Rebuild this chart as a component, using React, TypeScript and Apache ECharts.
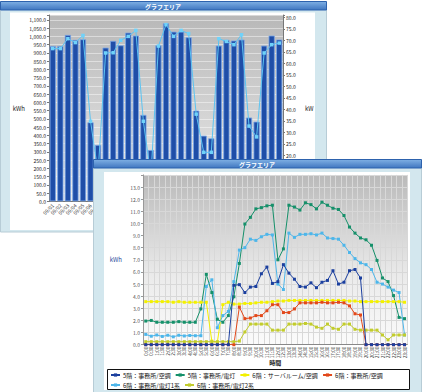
import { useEffect, useRef } from 'react';
import * as echarts from 'echarts';

const FONT = '"Noto Sans CJK JP", "Noto Sans", sans-serif';

// ---- Chart 1 (daily energy, back panel) ----
const dayLabels = [
  '09/01', '09/02', '09/03', '09/04', '09/05', '09/06', '09/07', '09/08', '09/09', '09/10',
  '09/11', '09/12', '09/13', '09/14', '09/15', '09/16', '09/17', '09/18', '09/19', '09/20',
  '09/21', '09/22', '09/23', '09/24', '09/25', '09/26', '09/27', '09/28', '09/29', '09/30', '10/01',
];
const dailyKWh = [
  942, 942, 1009, 979, 983, 479, 342, 932, 973, 946,
  1023, 1005, 524, 311, 946, 1080, 1029, 1029, 995, 550,
  398, 382, 944, 979, 975, 981, 508, 483, 944, 1005, 981,
];
const peakKW = [
  66.4, 66.4, 70.7, 69.0, 72.1, 34.8, 12.5, 64.5, 64.6, 70.0,
  71.7, 74.3, 34.8, 11.0, 67.5, 76.8, 71.7, 74.3, 72.9, 37.9,
  21.3, 21.3, 70.7, 69.5, 68.1, 72.4, 32.7, 28.0, 64.5, 68.1, 68.8,
];

// ---- Chart 2 (half-hourly energy, front panel) ----
const timeLabels = [
  '0:00', '0:30', '1:00', '1:30', '2:00', '2:30', '3:00', '3:30', '4:00', '4:30',
  '5:00', '5:30', '6:00', '6:30', '7:00', '7:30', '8:00', '8:30', '9:00', '9:30',
  '10:00', '10:30', '11:00', '11:30', '12:00', '12:30', '13:00', '13:30', '14:00', '14:30',
  '15:00', '15:30', '16:00', '16:30', '17:00', '17:30', '18:00', '18:30', '19:00', '19:30',
  '20:00', '20:30', '21:00', '21:30', '22:00', '22:30', '23:00', '23:30',
];
const seriesNames = [
  '5階：事務所/空調',
  '5階：事務所/電灯',
  '6階：サーバルーム/空調',
  '6階：事務所/空調',
  '6階：事務所/電灯1系',
  '6階：事務所/電灯2系',
];
const seriesColors = ['#1b3f9e', '#15906a', '#f2f000', '#e2481a', '#4db6ea', '#c2cc2c'];
const f5Aircon = [
  0, 0, 0, 0, 0, 0, 0, 0, 0, 0,
  0, 0, 0, 0, 0, 0, 4.9, 4.95, 4.3, 4.75,
  4.8, 5.85, 6.4, 5.05, 5.2, 6.6, 5.9, 5.4, 4.8, 4.75,
  5.1, 4.7, 5.15, 5.3, 6.1, 5.0, 5.15, 6.1, 6.2, 5.5,
  0, 0, 0, 0, 0, 0, 0, 0,
];
const f5Light = [
  1.95, 2.0, 1.85, 1.85, 1.85, 1.85, 1.9, 1.85, 1.85, 1.85,
  2.95, 5.8, 4.3, 2.1, 1.85, 2.4, 3.95, 6.7, 9.95, 10.5,
  11.2, 11.3, 11.45, 11.5, 7.0, 7.9, 11.5, 11.35, 11.1, 11.7,
  11.55, 11.2, 11.75, 11.5, 11.25, 11.15, 10.65, 9.7, 9.2, 8.8,
  8.65, 8.2, 6.95, 5.5, 5.2, 4.05, 2.25, 2.15,
];
const f6Server = [
  3.55, 3.55, 3.55, 3.55, 3.55, 3.5, 3.55, 3.5, 3.5, 3.5,
  3.5, 3.5, 0.3, 0.2, 3.3, 3.5, 3.35, 3.35, 3.4, 3.4,
  3.45, 3.5, 3.5, 3.55, 3.6, 3.6, 3.65, 3.65, 3.65, 3.65,
  3.65, 3.65, 3.65, 3.65, 3.65, 3.65, 3.65, 3.6, 3.6, 3.55,
  3.55, 3.55, 3.55, 3.55, 3.55, 3.55, 3.55, 3.5,
];
const f6Aircon = [
  0, 0, 0, 0, 0, 0, 0, 0, 0, 0,
  0, 0, 0, 0, 0, 0, 0, 3.1, 2.15, 2.2,
  2.4, 2.4, 2.8, 3.3, 3.3, 2.65, 2.65, 2.95, 3.45, 3.45,
  3.45, 3.45, 3.5, 3.45, 3.45, 3.5, 3.45, 3.2, 2.55, 2.45,
  0, 0, 0, 0, 0, 0, 0, 0,
];
const f6Light1 = [
  0.85, 0.7, 0.8, 0.68, 0.78, 0.65, 0.78, 0.72, 0.76, 0.74,
  0.74, 4.8, 5.35, 1.4, 2.4, 2.75, 5.2, 7.8, 8.0, 8.7,
  8.6, 8.9, 9.1, 9.05, 5.0, 4.55, 9.2, 8.85, 9.1, 9.1,
  9.15, 9.05, 9.2, 8.8, 8.75, 8.7, 8.2, 7.6, 7.1, 6.75,
  6.6, 6.2, 5.15, 5.0, 4.75, 4.5, 4.3, 0.8,
];
const f6Light2 = [
  0.25, 0.25, 0.25, 0.25, 0.25, 0.25, 0.25, 0.25, 0.25, 0.25,
  0.25, 0.25, 0.25, 0.25, 0.25, 0.25, 0.25, 0.3, 1.05, 1.7,
  1.7, 1.7, 1.7, 1.2, 1.2, 1.2, 1.7, 1.7, 1.7, 1.75,
  1.7, 1.45, 1.35, 1.7, 1.35, 1.27, 1.7, 1.7, 1.27, 1.2,
  1.2, 1.2, 1.2, 0.8, 0.4, 0.8, 0.8, 0.8,
];
const halfHourSeries = [f5Aircon, f5Light, f6Server, f6Aircon, f6Light1, f6Light2];

const withCommas = (v: number) => {
  const [i, d] = v.toFixed(1).split('.');
  return i.replace(/\B(?=(\d{3})+(?!\d))/g, ',') + '.' + d;
};

const titleGradient = {
  type: 'linear', x: 0, y: 0, x2: 0, y2: 1,
  colorStops: [{ offset: 0, color: '#7fb0e4' }, { offset: 1, color: '#3f76c0' }],
};

const panelGraphics = (w: number, h: number, inner: number[]) => [
  { type: 'rect', z: -20, silent: true, shape: { x: 0.5, y: 9, width: w, height: h }, style: { fill: '#d3e7ee', stroke: '#b7ccd6', lineWidth: 1 } },
  { type: 'rect', z: -19, silent: true, shape: { x: inner[0], y: inner[1], width: inner[2], height: inner[3] }, style: { fill: '#ffffff' } },
  { type: 'rect', z: -18, silent: true, shape: { x: 0.5, y: 1.5, width: w, height: 8.5 }, style: { fill: titleGradient, stroke: '#2d62ad', lineWidth: 1 } },
  {
    type: 'text', z: -17, silent: true, x: w / 2, y: 6,
    style: {
      text: 'グラフエリア', fill: '#ffffff', font: `bold 6px ${FONT}`,
      textAlign: 'center', textVerticalAlign: 'middle', align: 'center', verticalAlign: 'middle',
    },
  },
];

const option1: any = {
  animation: false,
  textStyle: { fontFamily: FONT },
  graphic: panelGraphics(326, 223, [10, 12.5, 305, 217.5]),
  grid: {
    left: 49, top: 15, width: 234, height: 186.3, show: true, borderWidth: 0,
    backgroundColor: {
      type: 'linear', x: 0, y: 0, x2: 0, y2: 1,
      colorStops: [{ offset: 0, color: '#b8b8b8' }, { offset: 1, color: '#ececec' }],
    },
  },
  xAxis: {
    type: 'category', data: dayLabels,
    axisLabel: { rotate: 45, fontSize: 5, interval: 0, margin: 3, color: '#333' },
    axisTick: { show: false },
    axisLine: { lineStyle: { color: '#777' } },
  },
  yAxis: [
    {
      type: 'value', min: 0, max: 1130, interval: 50,
      name: 'kWh', nameLocation: 'middle', nameRotate: 0, nameGap: 24, nameMoveOverlap: false,
      nameTextStyle: { fontSize: 6, color: '#222' },
      axisLabel: { fontSize: 5, color: '#222', margin: 3, formatter: (v: number) => (Math.abs(v % 50) > 1e-6 ? '' : withCommas(v)) },
      axisLine: { show: true, lineStyle: { color: '#777' } },
      axisTick: { show: true, length: 2, lineStyle: { color: '#777' } },
      splitLine: { lineStyle: { color: 'rgba(255,255,255,0.45)', width: 1 } },
    },
    {
      type: 'value', min: 0, max: 81, interval: 5, position: 'right',
      name: 'kW', nameLocation: 'middle', nameRotate: 0, nameGap: 22, nameMoveOverlap: false,
      nameTextStyle: { fontSize: 6, color: '#222' },
      axisLabel: { fontSize: 5, color: '#222', margin: 3, formatter: (v: number) => (Math.abs(v % 5) > 1e-6 ? '' : v.toFixed(1)) },
      axisLine: { show: true, lineStyle: { color: '#777' } },
      axisTick: { show: true, length: 2, lineStyle: { color: '#777' } },
      splitLine: { show: false },
    },
  ],
  series: [
    {
      type: 'bar', data: dailyKWh, barWidth: '82%',
      itemStyle: { color: '#1f4ea8', borderColor: '#7aa6e6', borderWidth: 0.8 },
    },
    {
      type: 'line', data: peakKW, yAxisIndex: 1,
      symbol: 'rect', symbolSize: 3.5,
      lineStyle: { color: '#5cc4f2', width: 1 },
      itemStyle: { color: '#6fd2fa' },
    },
  ],
};

const option2: any = {
  animation: false,
  textStyle: { fontFamily: FONT },
  graphic: [
    ...panelGraphics(328, 226, [11, 14, 306, 218]),
    { type: 'rect', z: -16, silent: true, shape: { x: 14.5, y: 211.5, width: 302, height: 20 }, style: { fill: '#ffffff', stroke: '#111', lineWidth: 1 } },
  ],
  grid: {
    left: 50, top: 16.9, width: 264.3, height: 169.8, show: true, borderWidth: 0,
    backgroundColor: {
      type: 'linear', x: 0, y: 0, x2: 0, y2: 1,
      colorStops: [
        { offset: 0, color: '#bababa' },
        { offset: 0.6, color: '#ebebeb' },
        { offset: 1, color: '#fbfbfb' },
      ],
    },
  },
  legend: {
    left: 17, top: 214, width: 292, padding: 0,
    itemWidth: 9, itemHeight: 4, itemGap: 4,
    textStyle: { fontSize: 6, color: '#111', lineHeight: 6, padding: [0, 0, 0, -2] },
    data: seriesNames,
  },
  xAxis: {
    type: 'category', data: timeLabels,
    name: '時間', nameLocation: 'middle', nameGap: 15, nameMoveOverlap: false,
    nameTextStyle: { fontSize: 6, color: '#222', fontWeight: 'bold' },
    axisLabel: { rotate: 90, fontSize: 4.6, interval: 0, margin: 2, color: '#333' },
    axisTick: { show: false },
    axisLine: { lineStyle: { color: '#888' } },
    splitLine: { show: true, interval: 0, lineStyle: { color: '#d8d8d8', width: 1 } },
  },
  yAxis: {
    type: 'value', min: 0, max: 14, interval: 1,
    name: 'kWh', nameLocation: 'middle', nameRotate: 0, nameGap: 21, nameMoveOverlap: false,
    nameTextStyle: { fontSize: 6, color: '#2c4b9c' },
    axisLabel: { fontSize: 5, color: '#555', margin: 3, formatter: (v: number) => (v >= 14 ? '' : v.toFixed(1)) },
    axisLine: { show: true, lineStyle: { color: '#999' } },
    axisTick: { show: true, length: 2, lineStyle: { color: '#999' } },
    splitLine: { lineStyle: { color: '#d8d8d8', width: 1 } },
  },
  series: halfHourSeries.map((data, k) => ({
    type: 'line', name: seriesNames[k], data,
    z: k === 0 ? 4 : 2,
    symbol: 'rect', symbolSize: 3,
    lineStyle: { color: seriesColors[k], width: 1 },
    itemStyle: { color: seriesColors[k] },
  })),
};

function EChart({ option, style }: { option: any; style: any }) {
  const ref = useRef<HTMLDivElement>(null);
  useEffect(() => {
    const chart = echarts.init(ref.current!, undefined, { renderer: 'svg' });
    chart.setOption(option);
    return () => chart.dispose();
  }, [option]);
  return <div ref={ref} style={style} />;
}

export default function App() {
  return (
    <div style={{ position: 'fixed', left: 0, top: 0, width: 422, height: 392, background: '#ffffff', overflow: 'hidden' }}>
      <EChart option={option1} style={{ position: 'absolute', left: 0, top: 0, width: 330, height: 236 }} />
      <EChart option={option2} style={{ position: 'absolute', left: 93, top: 158, width: 330, height: 234 }} />
    </div>
  );
}
